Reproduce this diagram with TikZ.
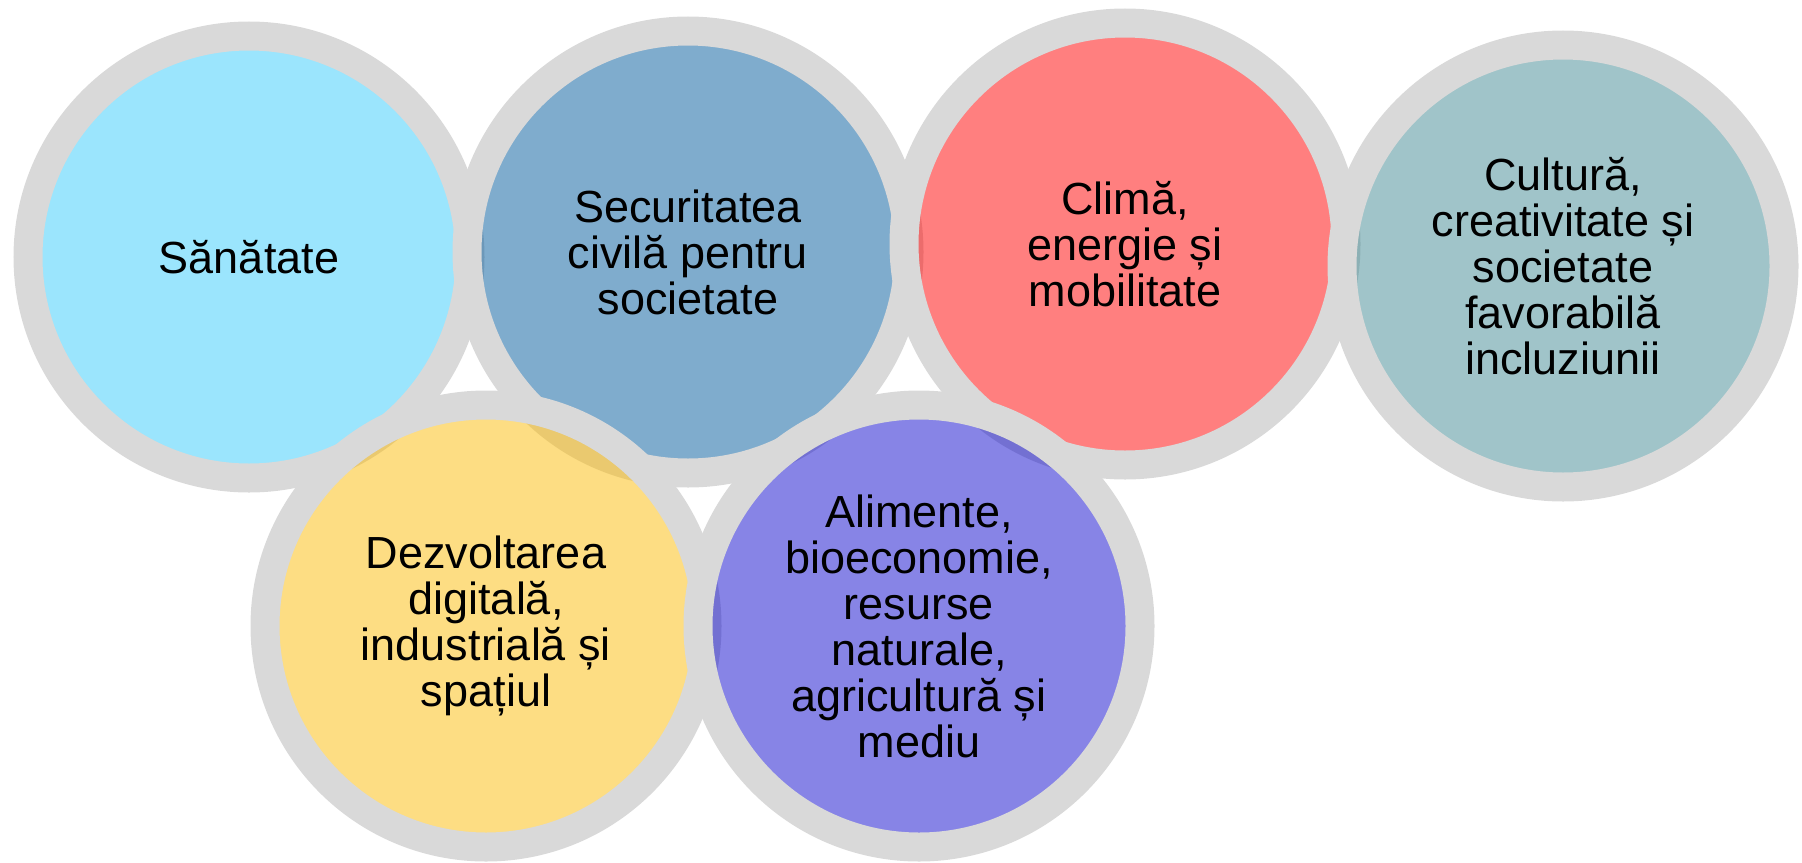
\documentclass[tikz,border=0pt]{standalone}
\usepackage{fontspec}
\setmainfont{Liberation Sans}
\definecolor{ringgray}{HTML}{D9D9D9}
\definecolor{sanatatecol}{RGB}{55,203,251}
\definecolor{securitatecol}{RGB}{0,89,155}
\definecolor{climacol}{RGB}{255,0,0}
\definecolor{culturacol}{RGB}{65,137,147}
\definecolor{digitalcol}{RGB}{251,187,7}
\definecolor{alimentecol}{RGB}{15,9,205}
\begin{document}
\begin{tikzpicture}[x=0.5pt,y=-0.5pt,
    topic/.style={circle, draw=ringgray, line width=14.5pt, minimum size=221pt, inner sep=0pt,
        fill opacity=0.5, text opacity=1, align=center, font=\fontsize{22.5pt}{23pt}\selectfont}]
    \useasboundingbox (0,0) rectangle (1802,862);

    \node[topic, fill=sanatatecol] (sanatate) at (249,257) {Sănătate};
    \node[topic, fill=securitatecol] (securitate) at (688,252) {Securitatea\\civilă pentru\\societate};
    \node[topic, fill=climacol] (clima) at (1125,244) {Climă,\\energie și\\mobilitate};
    \node[topic, fill=culturacol] (cultura) at (1563,266) {Cultură,\\creativitate și\\societate\\favorabilă\\incluziunii};
    \node[topic, fill=digitalcol] (digital) at (486,626) {Dezvoltarea\\digitală,\\industrială și\\spațiul};
    \node[topic, fill=alimentecol] (alimente) at (919,626) {Alimente,\\bioeconomie,\\resurse\\naturale,\\agricultură și\\mediu};
\end{tikzpicture}
\end{document}
